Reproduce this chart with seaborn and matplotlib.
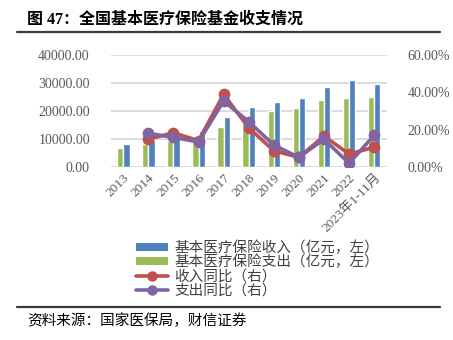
import matplotlib
matplotlib.use("Agg")
import numpy as np
import pandas as pd
import matplotlib.pyplot as plt
import seaborn as sns
from matplotlib.ticker import FuncFormatter
from matplotlib.patches import Patch
from matplotlib.lines import Line2D

# ---- data ----
years = ["2013", "2014", "2015", "2016", "2017", "2018",
         "2019", "2020", "2021", "2022", "2023年1-11月"]
income = [8248, 9687, 11193, 13084, 17932, 21384, 23335, 24846, 28727, 30922, 29600]
expense = [6801, 8134, 9312, 10767, 14422, 17822, 19946, 21032, 24043, 24597, 25200]
income_growth = [np.nan, 15.0, 18.5, 14.2, 39.0, 21.1, 8.9, 5.3, 16.7, 7.1, 10.7]
expense_growth = [np.nan, 18.2, 16.0, 13.5, 35.4, 24.4, 11.9, 5.3, 15.0, 2.1, 17.1]

lbl_inc = "基本医疗保险收入（亿元，左）"
lbl_exp = "基本医疗保险支出（亿元，左）"
lbl_inc_g = "收入同比（右）"
lbl_exp_g = "支出同比（右）"

BLUE = "#4F81BD"
GREEN = "#9BBB59"
RED = "#C0504D"
PURPLE = "#8064A2"
GRID = "#D9D9D9"
TXT = "#595959"

sns.set_theme(style="white")
plt.rcParams["font.family"] = ["Liberation Serif", "Noto Sans CJK SC"]
plt.rcParams["axes.unicode_minus"] = False

bars = pd.DataFrame({
    "year": years * 2,
    "value": expense + income,
    "series": [lbl_exp] * len(years) + [lbl_inc] * len(years),
})
growth = pd.DataFrame({"year": years, "inc": income_growth, "exp": expense_growth})

fig = plt.figure(figsize=(4.53, 3.40), dpi=100)
ax = fig.add_axes([110.7 / 453, 1 - 167.3 / 340, 276 / 453, 112.3 / 340])

sns.barplot(data=bars, x="year", y="value", hue="series",
            hue_order=[lbl_exp, lbl_inc], palette=[GREEN, BLUE],
            order=years, width=0.5, saturation=1, legend=False, ax=ax)
ax.set_ylim(0, 40000)
ax.set_yticks([0, 10000, 20000, 30000, 40000])
ax.yaxis.set_major_formatter(FuncFormatter(lambda v, p: f"{v:.2f}"))
ax.yaxis.grid(True, color=GRID, linewidth=1.3)
ax.set_axisbelow(True)
ax.set_xlabel("")
ax.set_ylabel("")
for s in ax.spines.values():
    s.set_visible(False)
ax.tick_params(axis="y", length=0, pad=15, labelsize=10, labelcolor=TXT)
ax.tick_params(axis="x", length=0, pad=3, labelsize=9.5, labelcolor=TXT)
for t in ax.get_xticklabels():
    t.set_rotation(45)
    t.set_ha("right")
    t.set_rotation_mode("anchor")

ax2 = ax.twinx()
sns.pointplot(data=growth, x="year", y="inc", order=years, color=RED,
              markers="o", markersize=6.5, linewidth=2.6, errorbar=None, ax=ax2)
sns.pointplot(data=growth, x="year", y="exp", order=years, color=PURPLE,
              markers="o", markersize=6.5, linewidth=2.6, errorbar=None, ax=ax2)
ax2.set_ylim(0, 60)
ax2.set_yticks([0, 20, 40, 60])
ax2.yaxis.set_major_formatter(FuncFormatter(lambda v, p: f"{v:.2f}%"))
ax2.set_ylabel("")
ax2.grid(False)
for s in ax2.spines.values():
    s.set_visible(False)
ax2.tick_params(axis="y", length=0, pad=15, labelsize=10, labelcolor=TXT)
ax.set_xlim(-0.5, len(years) - 0.5)

handles = [
    Patch(facecolor=BLUE, edgecolor="none"),
    Patch(facecolor=GREEN, edgecolor="none"),
    Line2D([], [], color=RED, lw=2.6, marker="o", markersize=6.5),
    Line2D([], [], color=PURPLE, lw=2.6, marker="o", markersize=6.5),
]
leg = fig.legend(handles, [lbl_inc, lbl_exp, lbl_inc_g, lbl_exp_g],
                 loc="upper left", bbox_to_anchor=(129 / 453, 1 - 233 / 340),
                 frameon=False, fontsize=10.5, handlelength=2.2, handleheight=0.45,
                 handletextpad=0.4, labelspacing=0.0, borderpad=0)
for t in leg.get_texts():
    t.set_color("#404040")

# title, rules and source note
fig.text(27 / 453, 1 - 20 / 340, "图 47：全国基本医疗保险基金收支情况",
         fontsize=11.5, fontweight="bold", va="center", ha="left", color="black")
fig.add_artist(Line2D([17 / 453, 440 / 453], [1 - 32.3 / 340] * 2,
                      color="#3a3a3a", lw=1.6))
fig.add_artist(Line2D([17 / 453, 440 / 453], [1 - 307.3 / 340] * 2,
                      color="#3a3a3a", lw=1.6))
fig.text(27 / 453, 1 - 321 / 340, "资料来源：国家医保局，财信证券",
         fontsize=10.5, style="italic", va="center", ha="left", color="black")

fig.savefig("out.png", dpi=100)
